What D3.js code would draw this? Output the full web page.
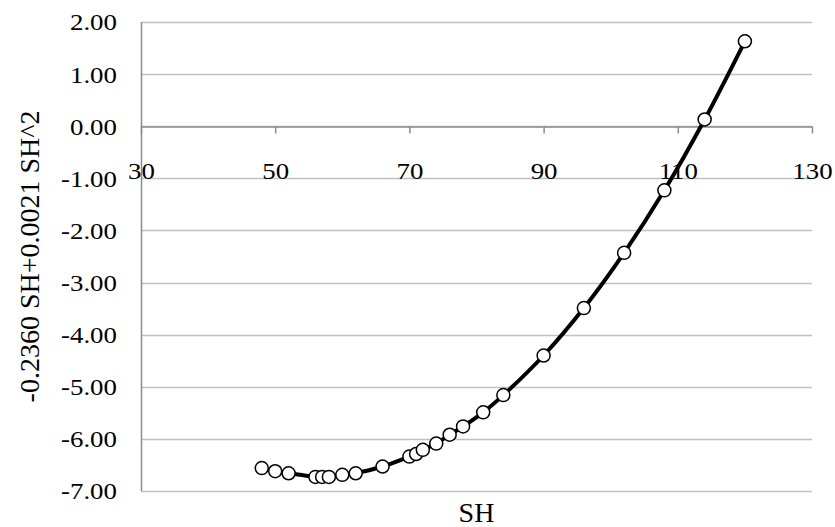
<!DOCTYPE html>
<html>
<head>
  <meta charset="utf-8">
  <script src="https://d3js.org/d3.v7.min.js"></script>
  <style>
    body { margin: 0; background: #fff; }
    svg { display: block; font-family: "Liberation Serif", "Times New Roman", serif; }
  </style>
</head>
<body>
  <div id="chart"></div>
  <script>
    // values
    var shValues = [48, 50, 52, 56, 57, 58, 60, 62, 66, 70, 71, 72, 74, 76, 78, 81, 84, 90, 96, 102, 108, 114, 120];
    var fitValues = [-6.56, -6.62, -6.66, -6.73, -6.73, -6.73, -6.69, -6.66, -6.53, -6.34, -6.29, -6.21, -6.09,
                     -5.92, -5.76, -5.49, -5.16, -4.40, -3.49, -2.43, -1.23, 0.13, 1.63];
    var xTicks = [30, 50, 70, 90, 110, 130];
    var yTicks = [2, 1, 0, -1, -2, -3, -4, -5, -6, -7];
    var xTitle = "SH";
    var yTitle = "-0.2360 SH+0.0021 SH^2";

    var W = 835, H = 527;
    var margin = {top: 22, right: 23, bottom: 36, left: 141};
    var stretch = 1.12; // labels in the picture look a bit wide

    var data = shValues.map(function(d, i) { return {x: d, y: fitValues[i]}; });

    var svg = d3.select("#chart").append("svg")
      .attr("width", W)
      .attr("height", H);

    var x = d3.scaleLinear().domain([30, 130]).range([margin.left, W - margin.right]);
    var y = d3.scaleLinear().domain([-7, 2]).range([H - margin.bottom, margin.top]);

    // gridlines
    svg.append("g")
      .selectAll("line")
      .data(yTicks)
      .enter().append("line")
        .attr("x1", x(30)).attr("x2", x(130))
        .attr("y1", function(d) { return Math.round(y(d)) + 0.5; })
        .attr("y2", function(d) { return Math.round(y(d)) + 0.5; })
        .attr("stroke", "#c0c0c0")
        .attr("stroke-width", 1.5);

    // y axis line
    svg.append("line")
      .attr("x1", x(30) + 0.5).attr("x2", x(30) + 0.5)
      .attr("y1", y(2)).attr("y2", y(-7))
      .attr("stroke", "#8c8c8c")
      .attr("stroke-width", 1.5);

    // y labels (plain hyphen like the original, not the unicode minus)
    svg.append("g")
      .selectAll("text")
      .data(yTicks)
      .enter().append("text")
        .attr("transform", function(d) { return "translate(117," + y(d) + ") scale(" + stretch + ",1)"; })
        .attr("dy", "0.35em")
        .attr("text-anchor", "end")
        .style("font-size", "24px")
        .text(function(d) { return d.toFixed(2); });

    // x axis at y = 0
    var xAxis = svg.append("g")
      .attr("transform", "translate(0," + (Math.round(y(0)) + 0.5) + ")")
      .call(d3.axisBottom(x).tickValues(xTicks).tickSize(7).tickSizeOuter(0).tickFormat(d3.format("d")));
    xAxis.select(".domain").attr("stroke", "#8c8c8c").attr("stroke-width", 1.5);
    xAxis.selectAll(".tick line").attr("stroke", "#8c8c8c").attr("stroke-width", 1.5);
    xAxis.selectAll(".tick text")
      .attr("y", 0)
      .attr("transform", "translate(0,44) scale(" + stretch + ",1)")
      .attr("dy", "0.35em")
      .style("font-family", "Liberation Serif, serif")
      .style("font-size", "24px")
      .attr("fill", "#000");

    // curve
    var line = d3.line()
      .x(function(d) { return x(d.x); })
      .y(function(d) { return y(d.y); })
      .curve(d3.curveCatmullRom.alpha(0.5));

    svg.append("path")
      .datum(data)
      .attr("d", line)
      .attr("fill", "none")
      .attr("stroke", "#000")
      .attr("stroke-width", 4);

    svg.append("g")
      .selectAll("circle")
      .data(data)
      .enter().append("circle")
        .attr("cx", function(d) { return x(d.x); })
        .attr("cy", function(d) { return y(d.y); })
        .attr("r", 6.5)
        .attr("fill", "#fff")
        .attr("stroke", "#000")
        .attr("stroke-width", 1.5);

    // axis titles
    svg.append("text")
      .attr("x", (x(30) + x(130)) / 2)
      .attr("y", 512)
      .attr("dy", "0.35em")
      .attr("text-anchor", "middle")
      .style("font-size", "28px")
      .text(xTitle);

    svg.append("text")
      .attr("transform", "translate(29," + (y(2) + y(-7)) / 2 + ") rotate(-90)")
      .attr("dy", "0.35em")
      .attr("text-anchor", "middle")
      .style("font-size", "28px")
      .text(yTitle);
  </script>
</body>
</html>
